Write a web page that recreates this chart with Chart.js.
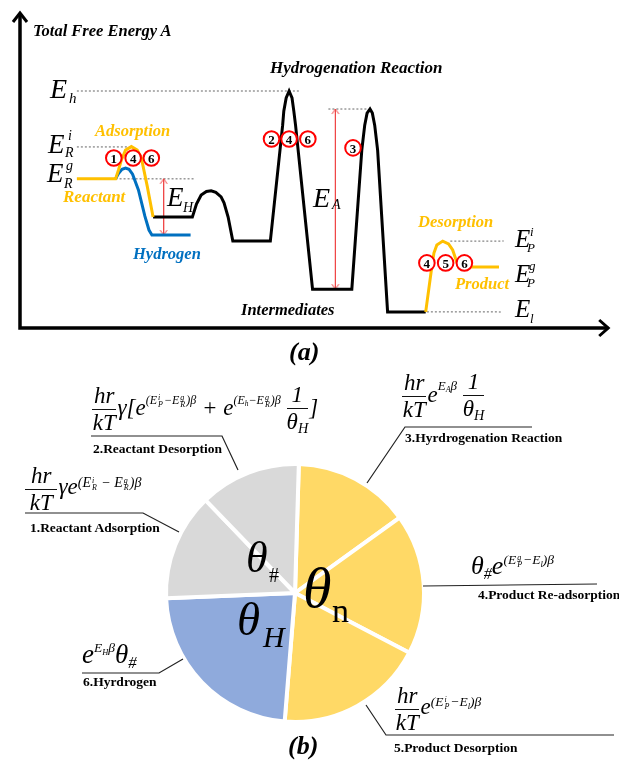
<!DOCTYPE html>
<html>
<head>
<meta charset="utf-8">
<script src="https://cdn.jsdelivr.net/npm/chart.js@4.4.1/dist/chart.umd.min.js"></script>
<style>
  body { margin: 0; background: #fff; }
  #wrap { position: relative; width: 619px; height: 761px; overflow: hidden; }
  canvas { position: absolute; left: 0; top: 0; }
  #leaders { position: absolute; left: 0; top: 0; }
  .t { position: absolute; white-space: nowrap; line-height: 1; font-family: 'Liberation Serif', 'Times New Roman', serif; color: #000; }
  .bi { font-weight: bold; font-style: italic; }
  .it { font-style: italic; }
  .b { font-weight: bold; }
  .num { position: absolute; transform: translate(-50%, -50%); font: bold 13px 'Liberation Serif', serif; line-height: 1; }
  .fm { position: absolute; font: italic 23px 'Liberation Serif', serif; line-height: 1; white-space: nowrap; }
  .fr { display: inline-block; vertical-align: middle; text-align: center; margin-right: 1px; }
  .fr i { display: block; }
  .fr i:first-child { border-bottom: 1.3px solid #111; padding: 0 2px 2px; }
  .fr i:last-child { padding-top: 1px; }
  .wide i:first-child { padding: 0 6px 2px; }
  .sp { font-size: 12px; vertical-align: 9px; }
  .st { display: inline-block; vertical-align: middle; font-size: 8px; line-height: 7px; margin: 0 1px; }
  .sb { font-size: 0.62em; vertical-align: -0.3em; }
</style>
</head>
<body>
<div id="wrap">
  <canvas id="energy" width="619" height="360"></canvas>
  <canvas id="pie" width="619" height="401" style="top:360px"></canvas>
  <svg id="leaders" width="619" height="761" fill="none" stroke="#222" stroke-width="1.2">
    <polyline points="25,513 143,513 179,532"/>
    <polyline points="91,436 222,436 238,470"/>
    <polyline points="532,427 405,427 367,483"/>
    <polyline points="423,586 597,584"/>
    <polyline points="366,705 386,735 614,735"/>
    <polyline points="82,673 159,673 183,659"/>
  </svg>
</div>
<script>
// panel (a): reaction coordinate (0-100) vs total free energy (0-100, arbitrary units)
const reactantX = [9.7, 16.3, 16.8, 17.3, 18.0, 19.0, 20.0, 20.7, 21.7, 22.7];
const reactantE = [47.2, 47.2, 50.0, 53.2, 56.3, 57.4, 56.3, 53.8, 44.9, 35.1];

const hydrogenX = [16.3, 16.8, 17.4, 18.0, 18.6, 19.2, 20.2, 21.3, 22.0, 22.5, 29.1];
const hydrogenE = [47.2, 48.9, 50.2, 50.6, 50.2, 48.7, 43.7, 35.4, 31.0, 29.4, 29.4];

const mainX = [22.7, 29.4, 30.1, 30.9, 31.8, 32.6, 33.4, 34.3, 34.8, 35.5, 36.3, 42.7, 44.8, 45.0, 45.4, 45.9, 46.4, 46.7, 47.0, 49.9, 56.6, 58.3, 58.8, 59.2, 59.7, 60.1, 60.5, 61.0, 62.7, 69.2];
const mainE = [35.1, 35.1, 39.2, 42.1, 43.2, 43.4, 42.9, 41.5, 39.6, 35.1, 27.5, 27.5, 64.2, 68.7, 72.8, 75.0, 72.8, 68.7, 64.2, 12.3, 12.3, 56.3, 64.2, 68.0, 69.3, 68.0, 64.2, 56.3, 5.1, 5.1];

const productX = [69.2, 70.1, 70.6, 71.1, 72.1, 73.1, 73.8, 74.5, 74.8, 81.7];
const productE = [5.1, 17.4, 23.7, 26.3, 27.5, 26.6, 24.7, 20.9, 19.3, 19.3];

// dotted reference levels: E_h, E_R^i, E_R^g, E_A top, E_P^i, E_l
const levelE = [75.0, 57.3, 47.2, 69.3, 27.5, 5.1];
const levelFrom = [9.7, 9.7, 16.3, 52.6, 73.4, 69.4];
const levelTo = [47.9, 18.5, 29.7, 59.2, 82.5, 82.0];

// red double arrows for E_H and E_A
const arrowX = [24.5, 53.8];
const arrowTop = [47.2, 69.3];
const arrowBottom = [29.4, 12.3];

// numbered step markers
const stepX = [16.0, 19.3, 22.4, 42.9, 45.9, 49.1, 56.8, 69.4, 72.6, 75.8];
const stepE = [53.8, 53.8, 53.8, 59.8, 59.8, 59.8, 57.0, 20.6, 20.6, 20.6];
const stepNum = ['1', '4', '6', '2', '4', '6', '3', '4', '5', '6'];

// panel (b): share of sites, degrees of the pie, clockwise from the top
const pieLabels = ['3.Hyrdrogenation Reaction', '4.Product Re-adsorption', '5.Product Desorption', '6.Hyrdrogen', '1.Reactant Adsorption', '2.Reactant Desorption'];
const pieValues = [52.5, 63.4, 67.0, 83.1, 48.4, 45.6];
const pieColors = ['#FFD966', '#FFD966', '#FFD966', '#8FAADC', '#D9D9D9', '#D9D9D9'];

const ORANGE = '#FFC000';
const BLUE = '#0070C0';
const RED = '#EF4848';

const pts = (xs, ys) => xs.map((x, i) => ({ x: x, y: ys[i] }));

// open arrow tip used as a point style
function chevron(color) {
    const c = document.createElement('canvas');
    c.width = 10;
    c.height = 16;
    const g = c.getContext('2d');
    g.strokeStyle = color;
    g.lineWidth = 1;
    g.beginPath();
    g.moveTo(1.5, 13);
    g.lineTo(5, 8);
    g.lineTo(8.5, 13);
    g.stroke();
    return c;
}
const tip = chevron(RED);

// axes with arrow heads
const axisArrows = {
    id: 'axisArrows',
    afterDraw(chart) {
        const { ctx, chartArea: a } = chart;
        ctx.save();
        ctx.strokeStyle = '#000';
        ctx.lineWidth = 3.5;
        ctx.beginPath();
        ctx.moveTo(a.left, a.bottom + 1.75);
        ctx.lineTo(a.left, a.top + 1);
        ctx.moveTo(a.left - 1.75, a.bottom);
        ctx.lineTo(a.right - 1, a.bottom);
        ctx.stroke();
        ctx.lineWidth = 3;
        ctx.beginPath();
        ctx.moveTo(a.left - 7, a.top + 10);
        ctx.lineTo(a.left, a.top + 1);
        ctx.lineTo(a.left + 7, a.top + 10);
        ctx.moveTo(a.right - 10, a.bottom - 8);
        ctx.lineTo(a.right - 1, a.bottom);
        ctx.lineTo(a.right - 10, a.bottom + 8);
        ctx.stroke();
        ctx.restore();
    }
};

const curve = (data, color) => ({
    data: data, borderColor: color, borderWidth: 3, pointRadius: 0, tension: 0, fill: false
});

const datasets = [];
datasets.push({
    data: pts(stepX, stepE), showLine: false, pointRadius: 7.8, pointBorderWidth: 2,
    pointBackgroundColor: '#fff', pointBorderColor: '#FF0000'
});
datasets.push(curve(pts(reactantX, reactantE), ORANGE));
datasets.push(curve(pts(productX, productE), ORANGE));
datasets.push(curve(pts(hydrogenX, hydrogenE), BLUE));
datasets.push(curve(pts(mainX, mainE), '#000'));
arrowX.forEach((x, i) => {
    datasets.push({
        data: [{ x: x, y: arrowTop[i] }, { x: x, y: arrowBottom[i] }],
        borderColor: RED, borderWidth: 1, pointRadius: 4, pointStyle: tip, pointRotation: [0, 180]
    });
});
levelE.forEach((e, i) => {
    datasets.push({
        data: [{ x: levelFrom[i], y: e }, { x: levelTo[i], y: e }],
        borderColor: '#666', borderWidth: 1, borderDash: [2, 2], pointRadius: 0
    });
});

const energyChart = new Chart(document.getElementById('energy'), {
    type: 'line',
    data: { datasets: datasets },
    options: {
        responsive: false,
        animation: false,
        layout: { padding: { left: 20, right: 1, top: 12, bottom: 32 } },
        scales: {
            x: { type: 'linear', min: 0, max: 100.5, display: false },
            y: { min: 0, max: 100, display: false }
        },
        plugins: { legend: { display: false }, tooltip: { enabled: false } }
    },
    plugins: [axisArrows]
});

new Chart(document.getElementById('pie'), {
    type: 'pie',
    data: {
        labels: pieLabels,
        datasets: [{
            data: pieValues, backgroundColor: pieColors, borderColor: '#fff',
            borderWidth: 4, hoverOffset: 0
        }]
    },
    options: {
        responsive: false,
        animation: false,
        rotation: 1.7,
        layout: { padding: { left: 164, right: 193, top: 102, bottom: 37 } },
        plugins: { legend: { display: false }, tooltip: { enabled: false } }
    }
});

const wrap = document.getElementById('wrap');

function put(html, x, base, size, cls, color) {
    const d = document.createElement('div');
    d.className = 't ' + (cls || '');
    d.style.left = x + 'px';
    d.style.top = (base - 0.8375 * size).toFixed(1) + 'px';
    d.style.fontSize = size + 'px';
    if (color) d.style.color = color;
    d.innerHTML = html;
    wrap.appendChild(d);
}

function formula(html, x, y, size) {
    const d = document.createElement('div');
    d.className = 'fm';
    d.style.left = x + 'px';
    d.style.top = y + 'px';
    if (size) d.style.fontSize = size + 'px';
    d.innerHTML = html;
    wrap.appendChild(d);
}

// numbers inside the step circles
const sx = energyChart.scales.x;
const sy = energyChart.scales.y;
stepNum.forEach((n, i) => {
    const d = document.createElement('div');
    d.className = 'num';
    d.style.left = sx.getPixelForValue(stepX[i]) + 'px';
    d.style.top = sy.getPixelForValue(stepE[i]) + 'px';
    d.textContent = n;
    wrap.appendChild(d);
});

// panel (a) text
put('Total Free Energy A', 33, 37, 16.5, 'bi');
put('Hydrogenation Reaction', 270, 73, 17, 'bi');
put('Intermediates', 241, 316, 16.5, 'bi');
put('Adsorption', 95, 137, 16.5, 'bi', ORANGE);
put('Reactant', 63, 202, 17, 'bi', ORANGE);
put('Hydrogen', 133, 260, 16.5, 'bi', BLUE);
put('Desorption', 418, 228, 16.5, 'bi', ORANGE);
put('Product', 455, 290, 16.5, 'bi', ORANGE);
put('(a)', 289, 361, 26, 'bi');
put('(b)', 288, 755, 26, 'bi');

put('E', 50, 98, 28, 'it'); put('h', 69, 104, 15, 'it');
put('E', 48, 154, 27, 'it'); put('i', 68, 141, 14, 'it'); put('R', 65, 158, 14, 'it');
put('E', 47, 183, 27, 'it'); put('g', 66, 171, 14, 'it'); put('R', 64, 189, 14, 'it');
put('E', 167, 207, 27, 'it'); put('H', 183, 213, 14, 'it');
put('E', 313, 207, 28, 'it'); put('A', 332, 210, 14, 'it');
put('E', 515, 247, 25, 'it'); put('i', 530, 236, 13, 'it'); put('P', 527, 252, 13, 'it');
put('E', 515, 282, 25, 'it'); put('g', 529, 270, 13, 'it'); put('P', 527, 287, 13, 'it');
put('E', 515, 317, 25, 'it'); put('l', 530, 323, 13, 'it');

// panel (b) text
put('θ', 246, 573, 44, 'it'); put('#', 269, 582, 20);
put('θ', 303, 608, 58, 'it'); put('n', 332, 622, 34);
put('θ', 237, 635, 47, 'it'); put('H', 263, 647, 30, 'it');

put(pieLabels[4], 30, 532, 13.5, 'b');
put(pieLabels[5], 93, 453, 13.5, 'b');
put(pieLabels[0], 405, 442, 13.5, 'b');
put(pieLabels[1], 478, 599, 13.5, 'b');
put(pieLabels[2], 394, 752, 13.5, 'b');
put(pieLabels[3], 83, 686, 13.5, 'b');

const fr = (n, d, cls) => '<span class="fr ' + (cls || '') + '"><i>' + n + '</i><i>' + d + '</i></span>';
const st = (a, b) => '<span class="st">' + a + '<br>' + b + '</span>';
const sb = s => '<span class="sb">' + s + '</span>';

formula(fr('hr', 'kT', 'wide') + 'γe<span class="sp" style="font-size:14px;vertical-align:7px">(E' + st('i', 'R') + ' − E' + st('g', 'R') + ')β</span>', 25, 464);
formula(fr('hr', 'kT') + 'γ[e<span class="sp" style="vertical-align:11px">(E' + st('i', 'P') + '−E' + st('g', 'R') + ')β</span> + e<span class="sp" style="vertical-align:11px">(E' + sb('h') + '−E' + st('g', 'R') + ')β</span> ' + fr('1', 'θ' + sb('H')) + ']', 92, 383);
formula(fr('hr', 'kT') + 'e<span class="sp" style="font-size:13px;vertical-align:12px">E' + sb('A') + 'β</span> ' + fr('1', 'θ' + sb('H')), 402, 370);
formula('θ' + sb('#') + 'e<span class="sp" style="font-size:13.5px;vertical-align:10px">(E' + st('g', 'P') + '−E' + sb('l') + ')β</span>', 471, 553, 26);
formula(fr('hr', 'kT') + 'e<span class="sp" style="font-size:13.5px;vertical-align:8px">(E' + st('i', 'P') + '−E' + sb('l') + ')β</span>', 395, 684);
formula('e<span class="sp" style="font-size:13.5px;vertical-align:11px">E' + sb('H') + 'β</span>θ' + sb('#'), 82, 641, 27);
</script>
</body>
</html>
